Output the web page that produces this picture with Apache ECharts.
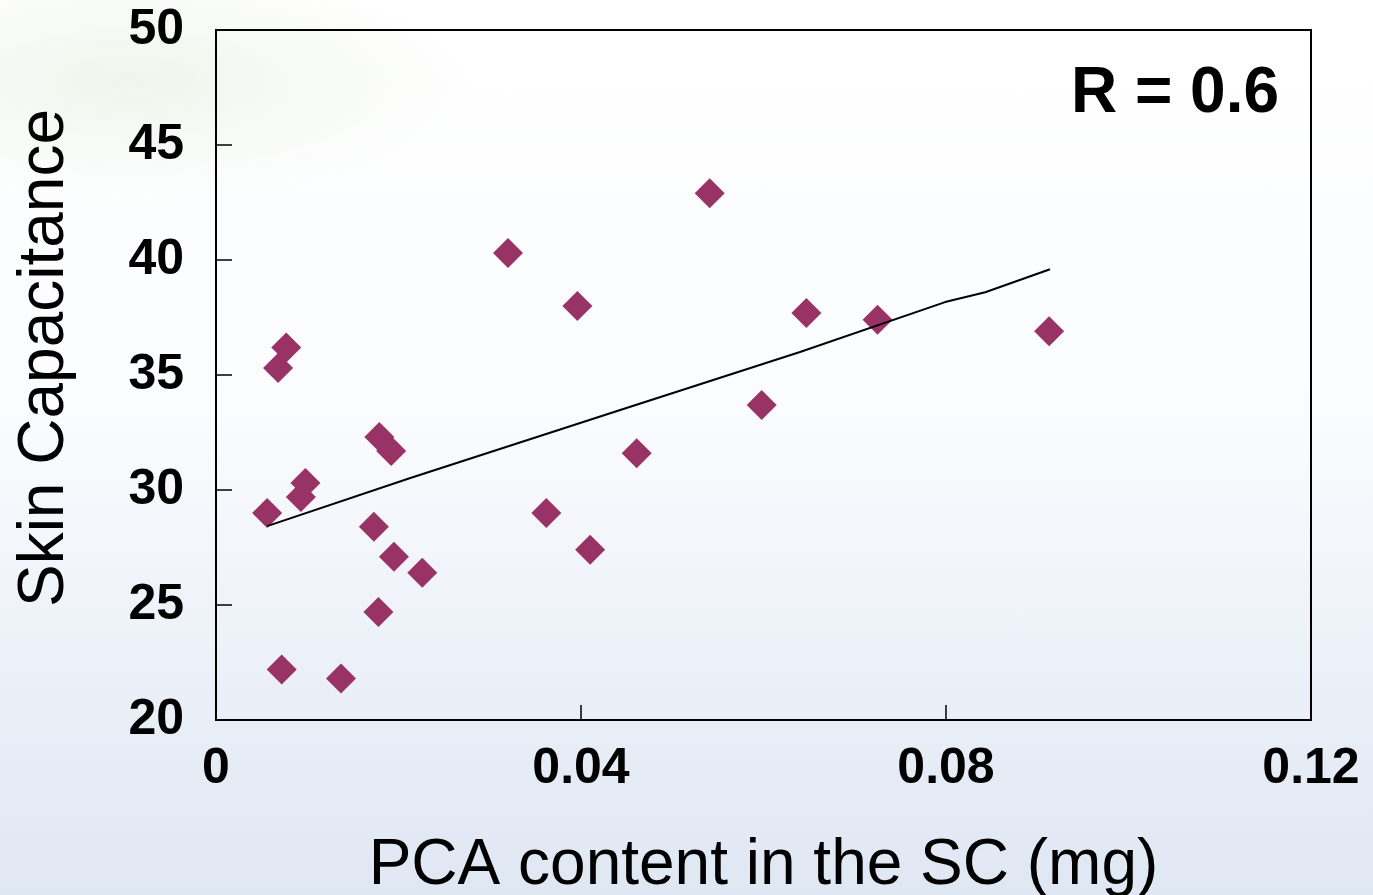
<!DOCTYPE html>
<html>
<head>
<meta charset="utf-8">
<script src="https://cdn.jsdelivr.net/npm/echarts@6/dist/echarts.min.js"></script>
<style>
    html, body { margin: 0; padding: 0; }
    body {
        width: 1373px; height: 895px; overflow: hidden;
        background:
            radial-gradient(ellipse 340px 120px at 130px 80px, rgba(234, 241, 228, 0.7), rgba(255, 255, 255, 0) 100%),
            linear-gradient(to bottom, #ffffff 0%, #fbfcfe 45%, #eef2f9 70%, #dfe7f3 100%);
    }
</style>
</head>
<body>
<div id="chart_con" style="width:1373px;height:895px;"></div>
<script>
// scatter points
const pcaContent = [0.0056, 0.0068, 0.0077, 0.0072, 0.0093, 0.0098, 0.0137, 0.0173, 0.0178, 0.0179, 0.0192, 0.0195,
    0.0226, 0.0320, 0.0362, 0.0396, 0.0410, 0.0461, 0.0541, 0.0598, 0.0647, 0.0725, 0.0913];
const skinCapacitance = [29.0, 35.3, 36.2, 22.2, 29.7, 30.3, 21.8, 28.4, 24.7, 32.3, 31.7, 27.1,
    26.4, 40.3, 29.0, 38.0, 27.4, 31.6, 42.9, 33.7, 37.7, 37.4, 36.9];

// regression line, points
const trendX = [0.0056, 0.0213, 0.0443, 0.0640, 0.0799, 0.0843, 0.0914];
const trendY = [28.43, 30.52, 33.48, 36.0, 38.17, 38.6, 39.6];

const xTicks = ['0', '0.04', '0.08', '0.12'];
const yTicks = ['20', '25', '30', '35', '40', '45', '50'];

const labelFont = {
    color: '#000',
    fontFamily: 'Liberation Sans, Arial, sans-serif',
    fontWeight: 'bold',
    fontSize: 50
};

const option = {
    animation: false,
    backgroundColor: 'transparent',
    grid: {
        left: 216,
        top: 30,
        width: 1095,
        height: 690,
        outerBoundsMode: 'none',
        containLabel: false,
        show: true,
        borderColor: '#000',
        borderWidth: 2,
        backgroundColor: 'transparent'
    },
    title: {
        text: 'R = 0.6',
        right: 89,
        top: 57,
        textStyle: {
            color: '#000',
            fontFamily: 'Liberation Sans, Arial, sans-serif',
            fontWeight: 'bold',
            fontSize: 64
        }
    },
    xAxis: {
        type: 'value',
        min: 0,
        max: 0.12,
        interval: 0.04,
        name: 'PCA content in the SC (mg)',
        nameLocation: 'middle',
        nameGap: 114,
        nameTextStyle: {
            color: '#000',
            fontFamily: 'Liberation Sans, Arial, sans-serif',
            fontSize: 64
        },
        axisLine: {show: true, lineStyle: {color: '#000', width: 2}},
        axisTick: {show: true, inside: true, length: 15, lineStyle: {color: '#000', width: 1.5}},
        splitLine: {show: false},
        axisLabel: Object.assign({
            margin: 24,
            formatter: function (v) {
                return xTicks[Math.round(v / 0.04)];
            }
        }, labelFont)
    },
    yAxis: {
        type: 'value',
        min: 20,
        max: 50,
        interval: 5,
        name: 'Skin Capacitance',
        nameLocation: 'middle',
        nameGap: 139,
        nameTextStyle: {
            color: '#000',
            fontFamily: 'Liberation Sans, Arial, sans-serif',
            fontSize: 64,
            padding: [0, 0, 0, 34]
        },
        axisLine: {show: true, lineStyle: {color: '#000', width: 2}},
        axisTick: {show: true, inside: true, length: 16, lineStyle: {color: '#000', width: 1.5}},
        splitLine: {show: false},
        axisLabel: Object.assign({
            margin: 32,
            formatter: function (v) {
                return yTicks[Math.round((v - 20) / 5)];
            }
        }, labelFont)
    },
    series: [
        {
            name: 'trend',
            type: 'line',
            data: trendX.map((x, i) => [x, trendY[i]]),
            symbol: 'none',
            lineStyle: {color: '#000', width: 2},
            z: 3
        },
        {
            name: 'points',
            type: 'scatter',
            data: pcaContent.map((x, i) => [x, skinCapacitance[i]]),
            symbol: 'diamond',
            symbolSize: [30, 30],
            itemStyle: {color: '#993366', opacity: 1},
            z: 2
        }
    ]
};

const chart = echarts.init(document.getElementById('chart_con'));
chart.setOption(option);
</script>
</body>
</html>
